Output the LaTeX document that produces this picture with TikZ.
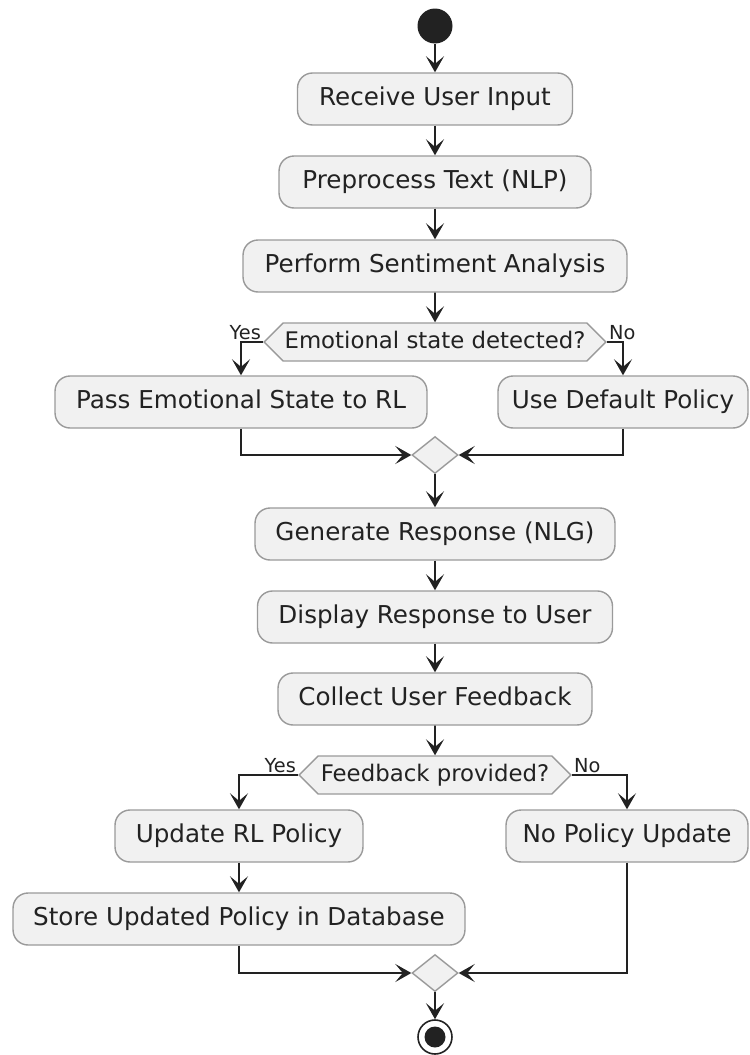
\documentclass[tikz,border=0pt]{standalone}
\usepackage{fontspec}
\setmainfont{DejaVu Sans}
\usetikzlibrary{shapes,arrows.meta}

\definecolor{boxFill}{HTML}{F1F1F1}
\definecolor{boxLine}{HTML}{9A9A9A}
\definecolor{ink}{HTML}{222222}

\tikzset{
	actBox/.style={draw=boxLine, fill=boxFill, line width=0.8pt, rounded corners=0.3cm, minimum height=1.04cm, inner sep=0pt, text height=10.5pt, text depth=3pt, text=ink, font=\fontsize{14}{16}\selectfont},
	decBox/.style={shape=signal, signal to=west and east, signal pointer angle=90, draw=boxLine, fill=boxFill, line width=0.8pt, minimum height=0.76cm, inner sep=0pt, text height=9.5pt, text depth=2.5pt, text=ink, font=\fontsize{13}{15}\selectfont},
	mergeBox/.style={diamond, draw=boxLine, fill=boxFill, line width=0.8pt, minimum width=0.92cm, minimum height=0.74cm, inner sep=0pt},
	lbl/.style={inner sep=1pt, text=ink, font=\fontsize{11}{13}\selectfont},
	arr/.style={draw=ink, line width=0.9pt, -{Stealth[length=0.32cm,width=0.36cm,inset=0.15cm]}}
}

\begin{document}
\begin{tikzpicture}[x=0.02cm, y=-0.02cm]
	\useasboundingbox (0,0) rectangle (750,1055);
	%start and first actions
	\node[circle, fill=ink, minimum size=0.7cm, inner sep=0pt] (start) at (435,26) {};
	\node[actBox, minimum width=5.5cm] (recv) at (435,99) {Receive User Input};
	\node[actBox, minimum width=6.24cm] (prep) at (435,182) {Preprocess Text (NLP)};
	\node[actBox, minimum width=7.68cm] (sent) at (435,266) {Perform Sentiment Analysis};
	%first decision
	\node[decBox, minimum width=6.84cm] (emo) at (435,342) {Emotional state detected?};
	\node[actBox, minimum width=7.44cm] (pass) at (241,402) {Pass Emotional State to RL};
	\node[actBox, minimum width=5.0cm] (dflt) at (623,402) {Use Default Policy};
	\node[mergeBox] (mergeA) at (435,455) {};
	\node[lbl, anchor=south east] (yesA) at (emo.west) {Yes};
	\node[lbl, anchor=south west] (noA) at (emo.east) {No};
	%response actions
	\node[actBox, minimum width=7.2cm] (gen) at (435,534) {Generate Response (NLG)};
	\node[actBox, minimum width=7.1cm] (disp) at (435,617) {Display Response to User};
	\node[actBox, minimum width=6.28cm] (coll) at (435,699) {Collect User Feedback};
	%second decision
	\node[decBox, minimum width=5.44cm] (fb) at (435,775) {Feedback provided?};
	\node[actBox, minimum width=4.96cm] (upd) at (239,836) {Update RL Policy};
	\node[actBox, minimum width=4.84cm] (noupd) at (627,836) {No Policy Update};
	\node[actBox, minimum width=9.04cm] (store) at (239,919) {Store Updated Policy in Database};
	\node[mergeBox] (mergeB) at (435,973) {};
	\node[lbl, anchor=south east] (yesB) at (fb.west) {Yes};
	\node[lbl, anchor=south west] (noB) at (fb.east) {No};
	%end
	\node[circle, draw=ink, line width=0.9pt, fill=white, minimum size=0.68cm, inner sep=0pt] (stop) at (435,1037) {};
	\node[circle, fill=ink, minimum size=0.42cm, inner sep=0pt] (stopDot) at (stop) {};

	%arrows
	\draw[arr] (start) -- (recv);
	\draw[arr] (recv) -- (prep);
	\draw[arr] (prep) -- (sent);
	\draw[arr] (sent) -- (emo);
	\draw[arr] (emo.west) -| (pass.north);
	\draw[arr] (emo.east) -| (dflt.north);
	\draw[arr] (pass.south) |- (mergeA.west);
	\draw[arr] (dflt.south) |- (mergeA.east);
	\draw[arr] (mergeA) -- (gen);
	\draw[arr] (gen) -- (disp);
	\draw[arr] (disp) -- (coll);
	\draw[arr] (coll) -- (fb);
	\draw[arr] (fb.west) -| (upd.north);
	\draw[arr] (fb.east) -| (noupd.north);
	\draw[arr] (upd) -- (store);
	\draw[arr] (store.south) |- (mergeB.west);
	\draw[arr] (noupd.south) |- (mergeB.east);
	\draw[arr] (mergeB) -- (stop);
\end{tikzpicture}
\end{document}
